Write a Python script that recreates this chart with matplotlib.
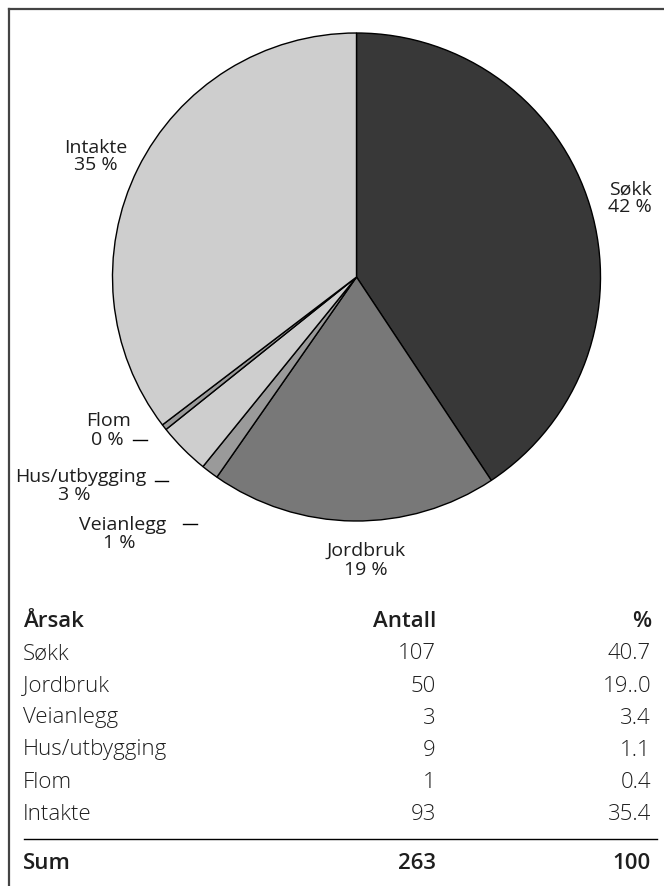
import matplotlib.pyplot as plt
from matplotlib.lines import Line2D

# Data
causes = ['Søkk', 'Jordbruk', 'Veianlegg', 'Hus/utbygging', 'Flom', 'Intakte']
counts = [107, 50, 3, 9, 1, 93]
pct_table = ['40.7', '19..0', '3.4', '1.1', '0.4', '35.4']
pie_pct_labels = ['42 %', '19 %', '1 %', '3 %', '0 %', '35 %']
total_count = '263'
total_pct = '100'
colors = ['#383838', '#787878', '#9a9a9a', '#cecece', '#9a9a9a', '#cecece']

W, H = 664, 887
plt.rcParams['font.family'] = ['Open Sans', 'DejaVu Sans']
txt_color = '#1e1e1e'

fig = plt.figure(figsize=(W / 100, H / 100), dpi=100)


def fx(px):
    return px / W


def fy(py):
    return 1 - py / H


# Pie, placed so that it sits where the reference has it
cx, cy, r = 356.5, 278, 244
ax = fig.add_axes([fx(cx - r), fy(cy + r), 2 * r / W, 2 * r / H])
ax.pie(counts, colors=colors, startangle=90, counterclock=False,
       wedgeprops=dict(edgecolor='black', linewidth=1.0))
ax.set_xlim(-1, 1)
ax.set_ylim(-1, 1)
ax.set_aspect('equal')
ax.axis('off')

# Pie labels (name, percent) with their positions in pixels
label_pos = {
    'Søkk': ((630, 190), (630, 207)),
    'Jordbruk': ((366, 551), (366, 570)),
    'Veianlegg': ((123, 525), (119, 543)),
    'Hus/utbygging': ((81, 477), (74, 495)),
    'Flom': ((109, 421), (107, 440)),
    'Intakte': ((96, 148), (96, 165)),
}
lab_kw = dict(fontsize=14, color=txt_color, ha='center', va='center',
              fontweight='normal')
for name, p in zip(causes, pie_pct_labels):
    (x1, y1), (x2, y2) = label_pos[name]
    fig.text(fx(x1), fy(y1), name, **lab_kw)
    fig.text(fx(x2), fy(y2), p, **lab_kw)

# little leader dashes
for x0, x1, yy in [(133, 147, 441), (155, 168, 482), (183, 197, 525)]:
    fig.add_artist(Line2D([fx(x0), fx(x1)], [fy(yy), fy(yy)],
                          color='black', linewidth=1.0))

# Table below the pie
x_name, x_cnt, x_pct = 23, 436, 651
row_y = [654, 686, 718, 750, 782, 814]
tab_kw = dict(fontsize=16, color=txt_color, va='center')

fig.text(fx(x_name), fy(622), 'Årsak', fontweight='semibold', ha='left', **tab_kw)
fig.text(fx(x_cnt), fy(622), 'Antall', fontweight='semibold', ha='right', **tab_kw)
fig.text(fx(x_pct), fy(622), '%', fontweight='semibold', ha='right', **tab_kw)

for yy, name, c, p in zip(row_y, causes, counts, pct_table):
    fig.text(fx(x_name), fy(yy), name, ha='left', fontweight='light', **tab_kw)
    fig.text(fx(x_cnt), fy(yy), str(c), ha='right', fontweight='light', **tab_kw)
    fig.text(fx(x_pct), fy(yy), p, ha='right', fontweight='light', **tab_kw)

fig.add_artist(Line2D([fx(24), fx(657)], [fy(840), fy(840)],
                      color='black', linewidth=1.0))

fig.text(fx(x_name), fy(864), 'Sum', fontweight='semibold', ha='left', **tab_kw)
fig.text(fx(x_cnt), fy(864), total_count, fontweight='semibold', ha='right', **tab_kw)
fig.text(fx(x_pct), fy(864), total_pct, fontweight='semibold', ha='right', **tab_kw)

# frame: top and left edges only
fig.add_artist(Line2D([fx(8.5), fx(W)], [fy(10), fy(10)], color='#444444', linewidth=1.6))
fig.add_artist(Line2D([fx(8.5), fx(8.5)], [fy(10), fy(H)], color='#444444', linewidth=1.6))

fig.savefig('out.png', dpi=100, facecolor='white')
